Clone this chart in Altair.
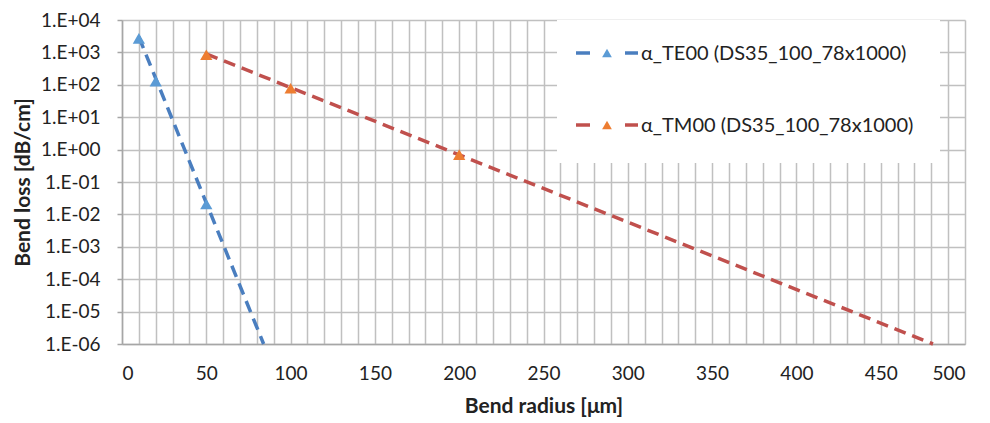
import altair as alt
import pandas as pd

# ---- data ----
te_radius = [10, 20, 50]
te_loss = [2.7e3, 1.3e2, 2.1e-2]
tm_radius = [50, 100, 200]
tm_loss = [8.5e2, 7.8e1, 7.0e-1]
te_fit_radius = [10, 84]
te_fit_loss = [3.0e3, 1e-6]
tm_fit_radius = [50, 481]
tm_fit_loss = [9.0e2, 1e-6]
x_ticks = list(range(0, 501, 10))
y_ticks = [1e-6, 1e-5, 1e-4, 1e-3, 1e-2, 1e-1, 1e0, 1e1, 1e2, 1e3, 1e4]
series_labels = ["α_TE00 (DS35_100_78x1000)", "α_TM00 (DS35_100_78x1000)"]

FONT = "Lato"
W, H = 843, 324
TE_LINE, TE_MARK = "#4a7ebf", "#5b9bd5"
TM_LINE, TM_MARK = "#c0504d", "#ed7d31"
TXT = "#222222"

xs = alt.Scale(domain=[0, 500], nice=False, zero=False)
ys = alt.Scale(type="log", domain=[1e-6, 1e4], nice=False)

x_axis = alt.Axis(
    values=x_ticks,
    labelExpr="datum.value % 50 == 0 ? datum.label : ''",
    labelOverlap=False,
    grid=True, ticks=False,
    title="Bend radius [μm]",
    labelPadding=20, titlePadding=12,
)
y_axis = alt.Axis(
    values=y_ticks,
    labelExpr="'1.E' + (round(log(datum.value)/LN10) >= 0 ? '+' : '-') + (abs(round(log(datum.value)/LN10)) < 10 ? '0' : '') + abs(round(log(datum.value)/LN10))",
    labelOverlap=False,
    grid=True, ticks=True, tickSize=5,
    title="Bend loss [dB/cm]",
    labelPadding=17, titlePadding=7,
)


def X(field):
    return alt.X(f"{field}:Q", scale=xs, axis=x_axis)


def Y(field):
    return alt.Y(f"{field}:Q", scale=ys, axis=y_axis)


te_df = pd.DataFrame({"r": te_radius, "loss": te_loss})
tm_df = pd.DataFrame({"r": tm_radius, "loss": tm_loss})
te_fit = pd.DataFrame({"r": te_fit_radius, "loss": te_fit_loss})
tm_fit = pd.DataFrame({"r": tm_fit_radius, "loss": tm_fit_loss})

dash = [12, 7]
te_line = alt.Chart(te_fit).mark_line(color=TE_LINE, strokeWidth=3.5, strokeDash=dash).encode(x=X("r"), y=Y("loss"))
tm_line = alt.Chart(tm_fit).mark_line(color=TM_LINE, strokeWidth=3.5, strokeDash=dash).encode(x=X("r"), y=Y("loss"))
te_pts = alt.Chart(te_df).mark_point(shape="triangle-up", filled=True, size=150, opacity=1, color=TE_MARK).encode(x=X("r"), y=Y("loss"))
tm_pts = alt.Chart(tm_df).mark_point(shape="triangle-up", filled=True, size=150, opacity=1, color=TM_MARK).encode(x=X("r"), y=Y("loss"))

# ---- manual legend (layout only) ----
one = pd.DataFrame({"a": [0]})
legend_layers = [
    alt.Chart(one).mark_rect(color="white").encode(
        x=alt.value(435), x2=alt.value(818), y=alt.value(0), y2=alt.value(143)
    )
]
rows = [(33, TE_LINE, TE_MARK, series_labels[0]), (105, TM_LINE, TM_MARK, series_labels[1])]
for yy, lc, mc, lab in rows:
    legend_layers.append(alt.Chart(one).mark_rule(color=lc, strokeWidth=3.5).encode(
        x=alt.value(454), x2=alt.value(468), y=alt.value(yy)))
    legend_layers.append(alt.Chart(one).mark_rule(color=lc, strokeWidth=3.5).encode(
        x=alt.value(503), x2=alt.value(516), y=alt.value(yy)))
    legend_layers.append(alt.Chart(one).mark_point(shape="triangle-up", filled=True, size=95, opacity=1, color=mc).encode(
        x=alt.value(485), y=alt.value(yy)))
    legend_layers.append(alt.Chart(one).mark_text(align="left", baseline="middle", font=FONT, fontSize=20, color=TXT).encode(
        x=alt.value(519), y=alt.value(yy + 1), text=alt.value(lab)))

chart = alt.layer(te_line, tm_line, te_pts, tm_pts, *legend_layers).properties(
    width=W, height=H,
    autosize=alt.AutoSizeParams(type="none"),
    padding={"left": 114, "top": 12, "right": 17, "bottom": 79},
).configure_view(stroke=None).configure_axis(
    labelFont=FONT, labelFontSize=19, labelColor=TXT,
    titleFont=FONT, titleFontSize=21, titleFontWeight="bold", titleColor=TXT,
    gridColor="#c0c0c0", gridWidth=1.5, gridOpacity=1,
    domainColor="#a6a6a6", domainWidth=1.5, tickColor="#a6a6a6", tickWidth=1.5,
)

chart.save("out.html", embed_options={"renderer": "svg", "actions": False})
